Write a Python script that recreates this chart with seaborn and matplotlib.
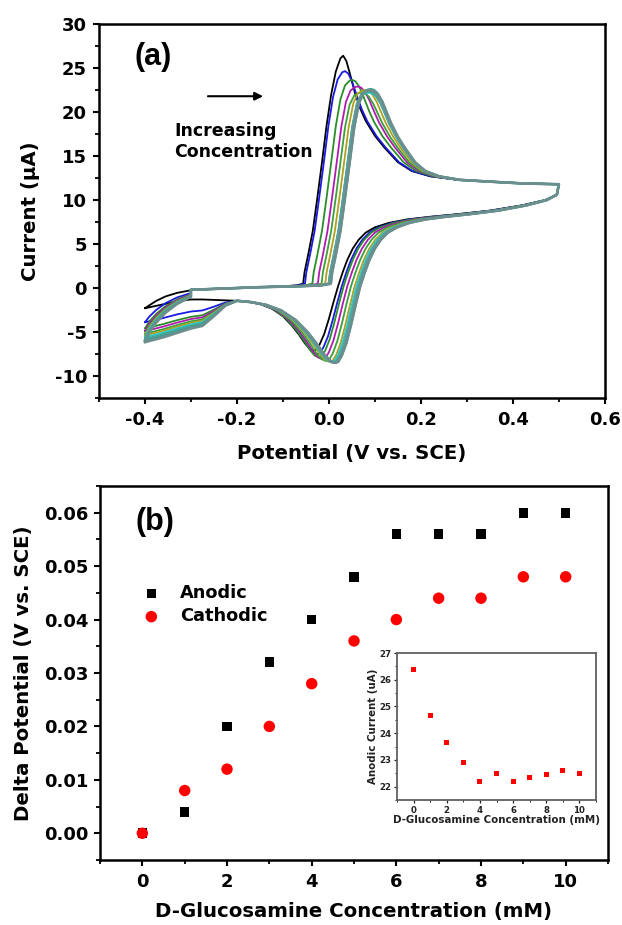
import numpy as np
import pandas as pd
import matplotlib
matplotlib.use("Agg")
import matplotlib.pyplot as plt
import seaborn as sns
from matplotlib.ticker import MultipleLocator, FormatStrFormatter

# ---------------- data ----------------
conc_mM = [0, 1, 2, 3, 4, 5, 6, 7, 8, 9, 10]
# panel (b): peak potential shifts (V vs. SCE)
anodic_shift = [0.000, 0.004, 0.020, 0.032, 0.040, 0.048, 0.056, 0.056, 0.056, 0.060, 0.060]
cathodic_shift = [0.000, 0.008, 0.012, 0.020, 0.028, 0.036, 0.040, 0.044, 0.044, 0.048, 0.048]
# inset: anodic peak current (uA)
anodic_current = [26.4, 24.65, 23.65, 22.9, 22.2, 22.5, 22.2, 22.35, 22.45, 22.6, 22.5]
# panel (a): cathodic peak currents and current at -0.4 V for every voltammogram
cathodic_current = [-7.1, -7.5, -7.9, -8.1, -8.3, -8.4, -8.4, -8.45, -8.5, -8.5, -8.5]
low_end_current = [-2.3, -3.9, -4.6, -4.9, -5.2, -5.4, -5.6, -5.8, -5.9, -6.0, -6.15]

# traced 0 mM voltammogram (black curve): forward sweep -0.3 -> 0.5 V
fwd_E = [-0.300, -0.250, -0.200, -0.150, -0.100, -0.070, -0.056, -0.053, -0.045,
         -0.035, -0.025, -0.015, -0.005, 0.005, 0.015, 0.025, 0.031, 0.038, 0.046,
         0.056, 0.068, 0.080, 0.100, 0.120, 0.150, 0.180, 0.220, 0.280, 0.350,
         0.420, 0.500]
fwd_I = [-0.2, -0.1, 0.0, 0.1, 0.2, 0.3, 0.5, 1.8, 3.8,
         6.5, 10.3, 14.3, 18.5, 22.0, 24.6, 26.1, 26.4, 25.8, 24.3,
         22.3, 20.4, 19.0, 17.3, 16.0, 14.3, 13.3, 12.7, 12.3, 12.1,
         11.9, 11.8]
# reverse sweep 0.5 -> -0.2 V
rev_E = [0.500, 0.495, 0.470, 0.420, 0.350, 0.280, 0.220, 0.170, 0.130, 0.100,
         0.080, 0.065, 0.052, 0.040, 0.030, 0.020, 0.010, 0.000, -0.010, -0.020,
         -0.028, -0.034, -0.042, -0.052, -0.065, -0.080, -0.100, -0.125, -0.150,
         -0.175, -0.200]
rev_I = [11.8, 10.6, 10.0, 9.4, 8.8, 8.4, 8.1, 7.8, 7.4, 6.9,
         6.3, 5.5, 4.5, 3.2, 1.8, 0.2, -1.6, -3.5, -5.2, -6.4,
         -7.0, -7.1, -6.9, -6.3, -5.3, -4.3, -3.2, -2.3, -1.8,
         -1.55, -1.45]
# reverse sweep -0.2 -> -0.4 V (0 mM and 10 mM traces)
left_E = [-0.200, -0.225, -0.250, -0.275, -0.300, -0.330, -0.360, -0.400]
left_I_0mM = [-1.45, -1.40, -1.35, -1.30, -1.30, -1.50, -1.85, -2.30]
left_I_10mM = [-1.45, -2.00, -3.20, -4.30, -4.60, -5.10, -5.60, -6.15]
# return sweep -0.4 -> -0.3 V
ret_E = [-0.400, -0.390, -0.375, -0.355, -0.330, -0.300]
ret_I_0mM = [-2.30, -1.95, -1.45, -0.95, -0.55, -0.25]
ret_I_10mM = [-6.15, -5.00, -3.90, -2.80, -1.80, -1.00]

curve_colors = ['#000000', '#1a1ae0', '#2a8c2a', '#b01cb0', '#3aa03a', '#b0a020',
                '#30c8c8', '#2aa58a', '#5aa0a0', '#3f9f8f', '#6e8e8e']
curve_widths = [1.3, 1.3, 1.3, 1.3, 1.3, 1.3, 1.4, 1.5, 1.7, 1.8, 1.9]


def fade(E, pts):
    return np.interp(E, pts, [0, 1, 1, 0])


def softmin(a, b, d=2.0):
    m = np.minimum(a, b)
    return m - d * np.log(np.exp(-(a - m) / d) + np.exp(-(b - m) / d))


def capped(fI, target):
    # soft cap whose maximum equals the read peak current
    caps = np.linspace(target, target + 3, 301)
    peaks = np.array([softmin(fI, c).max() for c in caps])
    return softmin(fI, np.interp(target, peaks, caps))


def voltammogram(i):
    fE = np.array(fwd_E); fI = np.array(fwd_I)
    rE = np.array(rev_E); rI = np.array(rev_I)
    # forward sweep: anodic peak shifted and lowered to the read values
    fE2 = fE + anodic_shift[i] * fade(fE, [-0.15, -0.06, 0.06, 0.30])
    fI2 = capped(fI, anodic_current[i]) if i > 0 else fI
    # reverse sweep: cathodic peak shifted and deepened
    rE2 = rE + cathodic_shift[i] * fade(rE, [-0.20, -0.03, 0.10, 0.50])
    r = cathodic_current[i] / cathodic_current[0]
    scale = 1 + (r - 1) * fade(rE, [-0.20, -0.06, 0.04, 0.08])
    rI2 = np.where(rI < 0, rI * scale, rI)
    d = (low_end_current[i] - low_end_current[0]) / (low_end_current[-1] - low_end_current[0])
    lI = np.array(left_I_0mM) + d * (np.array(left_I_10mM) - np.array(left_I_0mM))
    uI = np.array(ret_I_0mM) + d * (np.array(ret_I_10mM) - np.array(ret_I_0mM))
    E = np.concatenate([ret_E, fE2, rE2[1:], left_E[1:]])
    I = np.concatenate([uI, fI2, rI2[1:], lI[1:]])
    return pd.DataFrame({"E": E, "I": I})


# ---------------- styling ----------------
sns.set_style("ticks")
plt.rcParams['font.family'] = ['DejaVu Sans']
plt.rcParams['font.weight'] = 'bold'
plt.rcParams['axes.labelweight'] = 'bold'
plt.rcParams['axes.linewidth'] = 1.8
plt.rcParams['axes.unicode_minus'] = False
for key in ['text.color', 'axes.labelcolor', 'xtick.color', 'ytick.color',
            'axes.edgecolor']:
    plt.rcParams[key] = 'black'
LABEL_FS = 14.2
TICK_FS = 13

fig = plt.figure(figsize=(6.22, 9.25), dpi=100)
ax1 = fig.add_axes([0.159, 0.5697, 0.8135, 0.4043])
ax2 = fig.add_axes([0.1608, 0.0703, 0.8167, 0.4043])
axin = fig.add_axes([0.6383, 0.1351, 0.3199, 0.1589])

# ---------------- panel (a) ----------------
for i in range(len(conc_mM)):
    df = voltammogram(i)
    sns.lineplot(data=df, x="E", y="I", sort=False, estimator=None, ax=ax1,
                 color=curve_colors[i], lw=curve_widths[i], zorder=3 + i)

ax1.set_xlim(-0.5, 0.6)
ax1.set_ylim(-12.5, 30)
ax1.xaxis.set_minor_locator(MultipleLocator(0.1))
ax1.yaxis.set_major_locator(MultipleLocator(5))
ax1.yaxis.set_minor_locator(MultipleLocator(2.5))
ax1.set_xticks([-0.4, -0.2, 0.0, 0.2, 0.4, 0.6])
ax1.set_xticklabels(["-0.4", "-0.2", "0.0", "0.2", "0.4", "0.6"])
ax1.set_xlabel("Potential (V vs. SCE)", fontsize=LABEL_FS, fontweight='bold')
ax1.set_ylabel("Current (\u03bcA)", fontsize=LABEL_FS, fontweight='bold')
ax1.xaxis.set_label_coords(0.5, -0.123)
ax1.yaxis.set_label_coords(-0.117, 0.5)
ax1.text(0.07, 0.912, "(a)", transform=ax1.transAxes, fontsize=22,
         fontweight='bold', va='center', ha='left', family='Liberation Sans')
ax1.annotate("", xy=(0.33, 0.807), xytext=(0.21, 0.807), xycoords='axes fraction',
             arrowprops=dict(arrowstyle='-|>', color='black', lw=1.5,
                             mutation_scale=12))
ax1.text(0.149, 0.685, "Increasing\nConcentration", transform=ax1.transAxes,
         fontsize=12.5, fontweight='bold', va='center', ha='left', linespacing=1.2)

# ---------------- panel (b) ----------------
sns.scatterplot(x=conc_mM, y=anodic_shift, marker='s', color='black', s=48,
                edgecolor='none', label='Anodic', ax=ax2, zorder=3)
sns.scatterplot(x=conc_mM, y=cathodic_shift, marker='o', color='#ff0000', s=68,
                edgecolor='none', label='Cathodic', ax=ax2, zorder=4)
ax2.set_xlim(-1, 11)
ax2.set_ylim(-0.005, 0.065)
ax2.xaxis.set_major_locator(MultipleLocator(2))
ax2.xaxis.set_minor_locator(MultipleLocator(1))
ax2.yaxis.set_major_locator(MultipleLocator(0.01))
ax2.yaxis.set_minor_locator(MultipleLocator(0.005))
ax2.yaxis.set_major_formatter(FormatStrFormatter('%.2f'))
ax2.set_xlabel("D-Glucosamine Concentration (mM)", fontsize=LABEL_FS, fontweight='bold')
ax2.set_ylabel("Delta Potential (V vs. SCE)", fontsize=LABEL_FS, fontweight='bold')
ax2.xaxis.set_label_coords(0.5, -0.112)
ax2.yaxis.set_label_coords(-0.132, 0.5)
ax2.text(0.07, 0.905, "(b)", transform=ax2.transAxes, fontsize=22,
         fontweight='bold', va='center', ha='left', family='Liberation Sans')
ax2.legend(loc='upper left', bbox_to_anchor=(0.059, 0.757), frameon=False,
           handlelength=1.6, handletextpad=0.83, labelspacing=0.3, borderaxespad=0,
           prop={'weight': 'bold', 'size': 12.8})

for ax in (ax1, ax2):
    for sp in ax.spines.values():
        sp.set_linewidth(1.8)
        sp.set_color('black')
    ax.tick_params(axis='both', which='major', direction='out', length=4.5, width=1.5,
                   labelsize=TICK_FS, pad=4, colors='black')
    ax.tick_params(axis='x', which='major', pad=5)
    ax.tick_params(axis='both', which='minor', direction='out', length=2.8, width=1.3,
                   colors='black')
    ax.tick_params(top=False, right=False, which='both')
    for lab in ax.get_xticklabels() + ax.get_yticklabels():
        lab.set_fontweight('bold')

# ---------------- inset ----------------
sns.scatterplot(x=conc_mM, y=anodic_current, marker='s', color='#ff0000', s=13,
                edgecolor='none', ax=axin, zorder=3)
axin.set_xlim(-1, 11)
axin.set_ylim(21.5, 27)
axin.xaxis.set_major_locator(MultipleLocator(2))
axin.xaxis.set_minor_locator(MultipleLocator(1))
axin.yaxis.set_major_locator(MultipleLocator(1))
axin.yaxis.set_minor_locator(MultipleLocator(0.5))
axin.set_xlabel("D-Glucosamine Concentration (mM)", fontsize=7.4, fontweight='bold',
                color='#222222')
axin.set_ylabel("Anodic Current (uA)", fontsize=7.4, fontweight='bold',
                color='#222222')
axin.xaxis.set_label_coords(0.5, -0.10)
axin.yaxis.set_label_coords(-0.095, 0.5)
for sp in axin.spines.values():
    sp.set_linewidth(1.3)
    sp.set_color('#606060')
axin.tick_params(axis='both', which='major', direction='out', length=2.5, width=0.9,
                 labelsize=6.2, pad=1.5, colors='#222222')
axin.tick_params(axis='both', which='minor', direction='out', length=1.5, width=0.7,
                 colors='#222222')
for lab in axin.get_xticklabels() + axin.get_yticklabels():
    lab.set_fontweight('bold')

fig.savefig("out.png", dpi=100)
